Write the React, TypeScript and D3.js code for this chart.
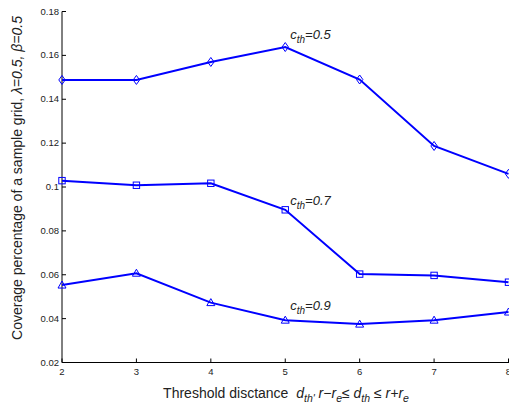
import React from "react";
import * as d3 from "d3";

const xValues = [2, 3, 4, 5, 6, 7, 8];
const series05 = [0.1488, 0.1488, 0.157, 0.1638, 0.149, 0.1187, 0.106];
const series07 = [0.1029, 0.1008, 0.1017, 0.0896, 0.0603, 0.0597, 0.0566];
const series09 = [0.0553, 0.0607, 0.0473, 0.0393, 0.0375, 0.0393, 0.043];
const yTicks = [0.02, 0.04, 0.06, 0.08, 0.1, 0.12, 0.14, 0.16, 0.18];
const yTickLabels = ["0.02", "0.04", "0.06", "0.08", "0.1", "0.12", "0.14", "0.16", "0.18"];
const seriesLabels = ["0.5", "0.7", "0.9"];
const labelAnchors = [0.1676, 0.0920, 0.0440];

const W = 509, H = 412;
const L = 62, R = 508.5, T = 11.5, B = 362.5;
const BLUE = "#0000ff";
const FONT = "'Liberation Sans', Arial, Helvetica, sans-serif";

export default function App() {
  const x = d3.scaleLinear().domain([2, 8]).range([L, R]);
  const y = d3.scaleLinear().domain([0.02, 0.18]).range([B, T]);
  const line = d3.line<number>().x((_, i) => x(xValues[i])).y((d) => y(d));
  const all = [series05, series07, series09];
  const marker = (k: number, cx: number, cy: number, key: string) => {
    if (k === 0) {
      return <path key={key} d={`M${cx},${cy - 4.5}L${cx + 3.2},${cy}L${cx},${cy + 4.5}L${cx - 3.2},${cy}Z`} fill="none" stroke={BLUE} strokeWidth={1} />;
    }
    if (k === 1) {
      return <rect key={key} x={cx - 3.2} y={cy - 3.2} width={6.4} height={6.4} fill="none" stroke={BLUE} strokeWidth={1} />;
    }
    return <path key={key} d={`M${cx},${cy - 4}L${cx + 4},${cy + 3}L${cx - 4},${cy + 3}Z`} fill="none" stroke={BLUE} strokeWidth={1} />;
  };
  return (
    <svg width={W} height={H} style={{ position: "absolute", left: 0, top: 0, background: "#fff" }} fontFamily={FONT}>
      <rect x={0} y={0} width={W} height={H} fill="#fff" />
      <line x1={L} y1={T} x2={L} y2={B} stroke="#000" strokeWidth={1} />
      <line x1={L} y1={B} x2={R + 2} y2={B} stroke="#000" strokeWidth={1} />
      {yTicks.map((t, i) => (
        <g key={"y" + i}>
          <line x1={L} x2={L + 4} y1={y(t)} y2={y(t)} stroke="#000" />
          <text x={L - 3} y={y(t) + 3} fontSize={9.5} textAnchor="end" fill="#222">{yTickLabels[i]}</text>
        </g>
      ))}
      {xValues.map((t, i) => (
        <g key={"x" + i}>
          <line x1={x(t)} x2={x(t)} y1={B} y2={B - 4} stroke="#000" />
          <text x={x(t)} y={B + 12} fontSize={9.5} textAnchor="middle" fill="#222">{t}</text>
        </g>
      ))}
      {all.map((s, k) => (
        <g key={"s" + k}>
          <path d={line(s) || ""} fill="none" stroke={BLUE} strokeWidth={2} />
          {s.map((v, i) => marker(k, x(xValues[i]), y(v), `m${k}-${i}`))}
        </g>
      ))}
      {seriesLabels.map((lab, k) => (
        <text key={"l" + k} x={x(5) + 5} y={y(labelAnchors[k])} fontSize={13} fontStyle="italic" fill="#222">
          c<tspan fontSize={10} dy={4}>th</tspan><tspan dy={-4}>={lab}</tspan>
        </text>
      ))}
      <text transform={`translate(22,178) rotate(-90)`} textAnchor="middle" fontSize={14} fill="#222">
        Coverage percentage of a sample grid,  <tspan fontStyle="italic">λ=0.5, β=0.5</tspan>
      </text>
      <text x={286} y={398} textAnchor="middle" fontSize={14} fill="#222" xmlSpace="preserve">
        Threshold disctance  <tspan fontStyle="italic">d<tspan fontSize={10.5} dy={4}>th'</tspan><tspan dy={-4}> r−r</tspan><tspan fontSize={10.5} dy={4}>e</tspan><tspan dy={-4}>≤ d</tspan><tspan fontSize={10.5} dy={4}>th</tspan><tspan dy={-4}> ≤ r+r</tspan><tspan fontSize={10.5} dy={4}>e</tspan></tspan>
      </text>
    </svg>
  );
}
